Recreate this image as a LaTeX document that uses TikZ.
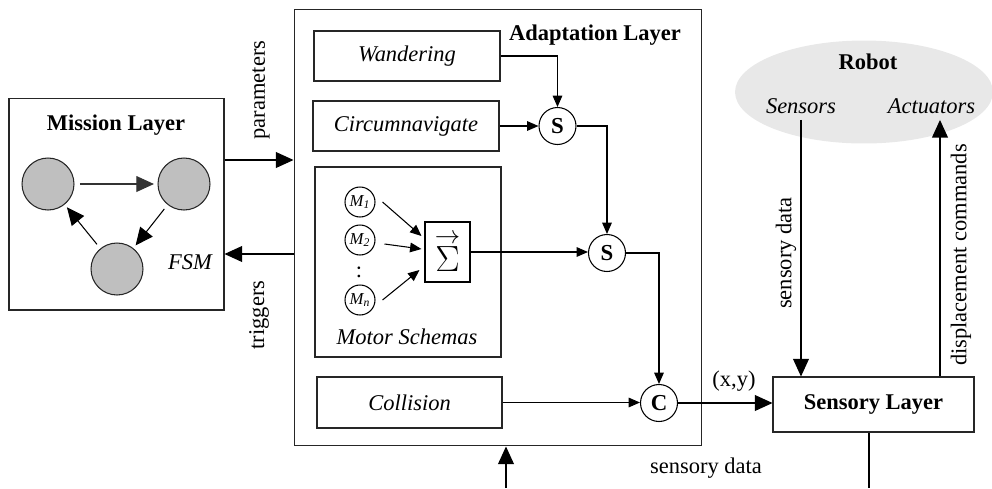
\documentclass[tikz,border=0pt]{standalone}
\usepackage{fontspec}
\setmainfont{Liberation Serif}
\usepackage{tikz}
\usetikzlibrary{arrows.meta, calc, shapes.geometric}
\def\scale{1}

\tikzset{
  layer/.style={draw=black!85, line width=0.6pt, inner sep=0pt},
  state/.style={circle, draw=black!85, fill=gray!50, minimum size=1.04cm, inner sep=0pt},
  junction/.style={circle, draw, minimum size=0.74cm, inner sep=0pt, font=\fontsize{13}{15}\selectfont\bfseries},
  schema/.style={circle, draw, minimum size=0.6cm, inner sep=0pt, font=\fontsize{9.5}{11}\selectfont\itshape},
  bigarrow/.style={-{Triangle[length=10pt, width=9pt]}},
  smallarrow/.style={-{Triangle[length=6.5pt, width=5.5pt]}},
}

\begin{document}
\begin{tikzpicture}[scale=\scale, x=0.02cm, y=-0.02cm, line width=0.6pt,
    font=\fontsize{12.8}{15}\selectfont]
  \useasboundingbox (0,0) rectangle (992,488);
  % \draw[gray!30] (0,0) grid[step=50] (992,488);

  % mission layer
  \node[layer, minimum width=4.3cm, minimum height=4.24cm] (mission) at (116.5,204) {};
  \node[font=\fontsize{12.8}{15}\selectfont\bfseries] (missiontitle) at (116,125) {Mission Layer};
  \node[state] (s1st) at (48,184) {};
  \node[state] (s2nd) at (184,184) {};
  \node[state] (s3rd) at (117,269) {};
  \node[font=\fontsize{12.8}{15}\selectfont\itshape] (fsm) at (190,262) {FSM};
  \draw[bigarrow, draw=black!80, shorten <=3pt, shorten >=2pt] (s1st) -- (s2nd);
  \draw[bigarrow, shorten <=3pt, shorten >=2pt] (s2nd) -- (s3rd);
  \draw[bigarrow, shorten <=3pt, shorten >=2pt] (s3rd) -- (s1st);

  % adaptation layer
  \node[layer, minimum width=8.16cm, minimum height=8.74cm] (adapt) at (498,227.5) {};
  \node[font=\fontsize{12.8}{15}\selectfont\bfseries] (adapttitle) at (595,35) {Adaptation Layer};
  \node[layer, minimum width=3.72cm, minimum height=1cm, font=\fontsize{12.8}{15}\selectfont\itshape] (wander) at (407,56) {Wandering};
  \node[layer, minimum width=3.72cm, minimum height=1cm, font=\fontsize{12.8}{15}\selectfont\itshape] (circum) at (406,126) {Circumnavigate};
  \node[layer, minimum width=3.72cm, minimum height=3.8cm] (motor) at (408,262) {};
  \node[font=\fontsize{12.8}{15}\selectfont\itshape] (motortitle) at (407,337) {Motor Schemas};
  \node[layer, minimum width=3.7cm, minimum height=1.02cm, font=\fontsize{12.8}{15}\selectfont\itshape] (coll) at (409.5,402.5) {Collision};

  \node[schema] (m1) at (360,202) {M\textsubscript{1}};
  \node[schema] (m2) at (360,240) {M\textsubscript{2}};
  \node (mdots) at (359,272) {:};
  \node[schema] (mn) at (360,300) {M\textsubscript{n}};
  \node[draw, minimum width=0.9cm, minimum height=1.2cm, inner sep=0pt,
        font=\fontsize{22}{24}\selectfont] (sigma) at (447.5,252) {$\stackrel{\rightarrow}{\Sigma}$};

  \node[junction] (sa) at (557.5,126) {S};
  \node[junction] (sb) at (607,253) {S};
  \node[junction] (col) at (659,403) {C};

  \draw[smallarrow] ([xshift=0.14cm]m1.east) -- ($(sigma.west)+(-3,-16)$);
  \draw[smallarrow] ($(m2.east)+(9,4)$) -- ($(sigma.west)+(-3,-3)$);
  \draw[smallarrow] ([xshift=0.14cm]mn.east) -- ($(sigma.west)+(-5,18)$);

  \draw[smallarrow] (wander.east) -| (sa.north);
  \draw[smallarrow] (circum.east) -- (sa.west);
  \draw[smallarrow] (sa.east) -| (sb.north);
  \draw[smallarrow] (sigma.east) -- (sigma.east -| sb.west);
  \draw[smallarrow] (sb.east) -| (col.north);
  \draw[smallarrow] (coll.east) -- (coll.east -| col.west);

  % between mission and adaptation
  \draw[bigarrow] (mission.east |- 0,160) -- (adapt.west |- 0,160);
  \draw[bigarrow] (adapt.west |- 0,254) -- (mission.east |- 0,254);
  \node[rotate=90] (params) at (261,90) {parameters};
  \node[rotate=90] (trig) at (259,315) {triggers};

  % robot and sensory layer
  \node[ellipse, fill=gray!18, minimum width=5.16cm, minimum height=2.06cm] (robot) at (864,92) {};
  \node[font=\fontsize{12.8}{15}\selectfont\bfseries] (robottitle) at (868,62) {Robot};
  \node[font=\fontsize{12.8}{15}\selectfont\itshape] (sensors) at (801,106) {Sensors};
  \node[font=\fontsize{12.8}{15}\selectfont\itshape] (act) at (931.5,106) {Actuators};
  \node[layer, minimum width=4.02cm, minimum height=1.1cm, font=\fontsize{12.8}{15}\selectfont\bfseries] (sens) at (873.5,404.5) {Sensory Layer};

  \draw[bigarrow] (col.east) -- (col.east -| sens.west);
  \node (xy) at (734,381) {(x,y)};
  \draw[bigarrow] (sensors.south) -- (sensors.south |- sens.north);
  \draw[bigarrow] ([xshift=0.17cm]sens.north -| act.south) -- ([xshift=0.17cm]act.south);
  \node[rotate=90] (sdata) at (786,253) {sensory data};
  \node[rotate=90] (dcmd) at (961,255) {displacement commands};

  \coordinate (sensbot) at (869,488);
  \coordinate (adaptbot) at (506,488);
  \draw (sensbot |- sens.south) -- (sensbot);
  \draw[bigarrow] (adaptbot) -- (adaptbot |- adapt.south);
  \node (sdata2) at (706,468) {sensory data};
\end{tikzpicture}
\end{document}
